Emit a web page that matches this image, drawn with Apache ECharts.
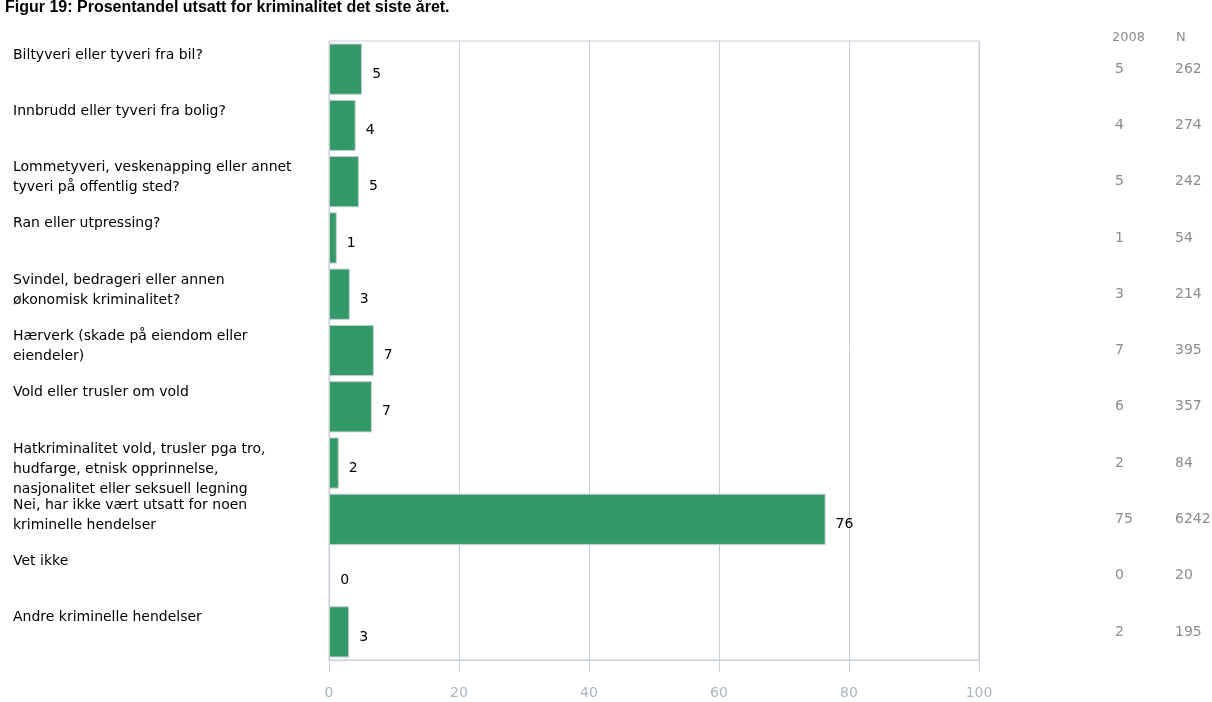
<!DOCTYPE html>
<html>
<head>
<meta charset="utf-8">
<script src="https://cdn.jsdelivr.net/npm/echarts@6/dist/echarts.min.js"></script>
<style>
html,body{margin:0;padding:0;background:#fff;}
#chart{width:1212px;height:702px;}
</style>
</head>
<body>
<div id="chart"></div>
<script>
var titleText = 'Figur 19: Prosentandel utsatt for kriminalitet det siste året.';
var categories = [
  'Biltyveri eller tyveri fra bil?',
  'Innbrudd eller tyveri fra bolig?',
  'Lommetyveri, veskenapping eller annet\ntyveri på offentlig sted?',
  'Ran eller utpressing?',
  'Svindel, bedrageri eller annen\nøkonomisk kriminalitet?',
  'Hærverk (skade på eiendom eller\neiendeler)',
  'Vold eller trusler om vold',
  'Hatkriminalitet vold, trusler pga tro,\nhudfarge, etnisk opprinnelse,\nnasjonalitet eller seksuell legning',
  'Nei, har ikke vært utsatt for noen\nkriminelle hendelser',
  'Vet ikke',
  'Andre kriminelle hendelser'
];
var values = [5.1, 4.1, 4.6, 1.2, 3.2, 6.9, 6.6, 1.5, 76.4, 0.2, 3.1];
var values2008 = ['5', '4', '5', '1', '3', '7', '6', '2', '75', '0', '2'];
var countsN = ['262', '274', '242', '54', '214', '395', '357', '84', '6242', '20', '195'];
var tableHeaders = ['2008', 'N'];
var xTicks = { min: 0, max: 100, interval: 20 };

var lineCol = '#c6ced9';
var tableCol = '#8c8c8c';
var chart = echarts.init(document.getElementById('chart'));
chart.setOption({
  animation: false,
  backgroundColor: '#ffffff',
  title: [
    { text: titleText, left: 0, top: -5,
      textStyle: { fontFamily: 'Liberation Sans', fontSize: 16, fontWeight: 'bold', color: '#000' } },
    { text: tableHeaders[0], left: 1107, top: 26,
      textStyle: { fontFamily: 'DejaVu Sans', fontSize: 13, fontWeight: 'normal', color: tableCol } },
    { text: tableHeaders[1], left: 1171, top: 26,
      textStyle: { fontFamily: 'DejaVu Sans', fontSize: 13, fontWeight: 'normal', color: tableCol } }
  ],
  grid: { left: 329, right: 233, top: 41, bottom: 42, show: true, borderColor: lineCol, borderWidth: 1,
    containLabel: false, outerBoundsMode: 'none' },
  xAxis: {
    type: 'value', min: xTicks.min, max: xTicks.max, interval: xTicks.interval,
    axisLine: { show: true, lineStyle: { color: lineCol } },
    axisTick: { show: true, length: 12, lineStyle: { color: lineCol } },
    splitLine: { show: true, lineStyle: { color: lineCol, width: 1 } },
    axisLabel: { color: '#a9b5c5', fontFamily: 'DejaVu Sans', fontSize: 14, margin: 26 }
  },
  yAxis: [
    { type: 'category', data: categories, inverse: true, position: 'left',
      axisLine: { show: true, lineStyle: { color: lineCol } },
      axisTick: { show: false }, axisLabel: { show: false }, splitLine: { show: false } },
    { type: 'category', data: categories.concat(['']), inverse: true, position: 'left', boundaryGap: false,
      axisLine: { show: false }, axisTick: { show: false }, splitLine: { show: false },
      axisLabel: { interval: 0, align: 'left', verticalAlign: 'top', margin: 316, lineHeight: 20,
        padding: [4, 0, 0, 0], color: '#000', fontFamily: 'DejaVu Sans', fontSize: 14 } },
    { type: 'category', data: values2008, inverse: true, position: 'right',
      axisLine: { show: false }, axisTick: { show: false }, splitLine: { show: false },
      axisLabel: { interval: 0, align: 'left', verticalAlign: 'middle', margin: 136,
        padding: [8, 0, 0, 0], color: tableCol, fontFamily: 'DejaVu Sans', fontSize: 14 } },
    { type: 'category', data: countsN, inverse: true, position: 'right',
      axisLine: { show: false }, axisTick: { show: false }, splitLine: { show: false },
      axisLabel: { interval: 0, align: 'left', verticalAlign: 'middle', margin: 196,
        padding: [8, 0, 0, 0], color: tableCol, fontFamily: 'DejaVu Sans', fontSize: 14 } }
  ],
  series: [{
    type: 'bar', yAxisIndex: 0, data: values, barCategoryGap: '9%',
    itemStyle: { color: '#339966', borderColor: '#c4ccd6', borderWidth: 1 },
    label: { show: true, position: 'right', distance: 10, offset: [0, 5], color: '#000',
      fontFamily: 'DejaVu Sans', fontSize: 14,
      formatter: function (p) { return String(Math.round(p.value)); } }
  }]
});
</script>
</body>
</html>
